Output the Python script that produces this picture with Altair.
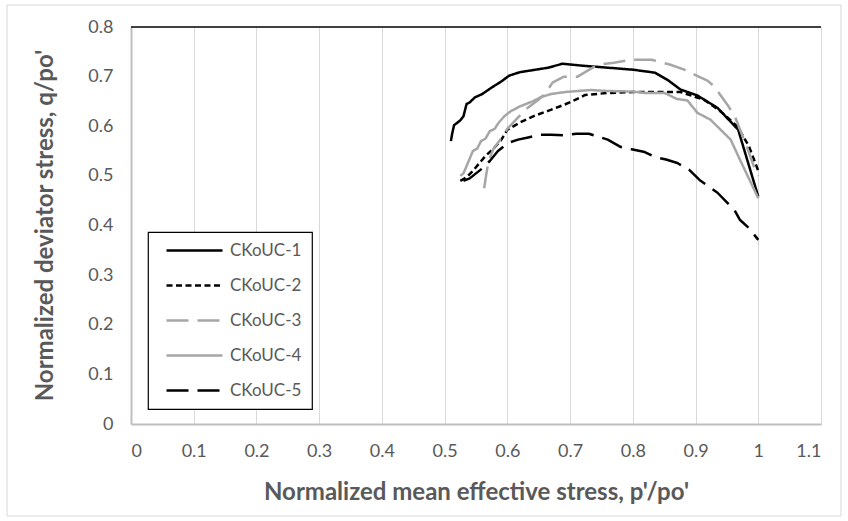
import altair as alt
import pandas as pd

series = ["CKoUC-1", "CKoUC-2", "CKoUC-3", "CKoUC-4", "CKoUC-5"]
colors = ["#000000", "#000000", "#a6a6a6", "#a6a6a6", "#000000"]
dashes = [[1, 0], [6, 3.5], [22, 9], [1, 0], [22, 9]]

p1 = [0.510, 0.512, 0.515, 0.525, 0.530, 0.535, 0.540, 0.548, 0.560, 0.575, 0.590, 0.603,
      0.620, 0.640, 0.665, 0.688, 0.720, 0.760, 0.800, 0.835, 0.857, 0.876, 0.903, 0.935,
      0.968, 1.000]
q1 = [0.570, 0.585, 0.602, 0.612, 0.620, 0.645, 0.648, 0.658, 0.665, 0.678, 0.690, 0.702,
      0.709, 0.713, 0.718, 0.726, 0.722, 0.718, 0.714, 0.708, 0.692, 0.674, 0.662, 0.637,
      0.593, 0.458]

p2 = [0.525, 0.535, 0.545, 0.555, 0.565, 0.578, 0.590, 0.600, 0.622, 0.645, 0.665, 0.690,
      0.708, 0.724, 0.760, 0.800, 0.876, 0.914, 0.940, 0.967, 0.985, 1.000]
q2 = [0.490, 0.497, 0.510, 0.525, 0.540, 0.555, 0.572, 0.593, 0.609, 0.622, 0.631, 0.643,
      0.653, 0.663, 0.667, 0.669, 0.669, 0.653, 0.630, 0.599, 0.560, 0.510]

p3 = [0.563, 0.566, 0.570, 0.578, 0.590, 0.600, 0.615, 0.630, 0.648, 0.660, 0.672, 0.690,
      0.712, 0.728, 0.744, 0.770, 0.797, 0.830, 0.860, 0.882, 0.905, 0.919, 0.930, 0.951,
      0.963, 0.971, 0.982, 0.995, 1.000]
q3 = [0.475, 0.500, 0.530, 0.555, 0.575, 0.595, 0.615, 0.635, 0.652, 0.665, 0.688, 0.700,
      0.700, 0.712, 0.724, 0.728, 0.734, 0.734, 0.724, 0.714, 0.700, 0.692, 0.680, 0.643,
      0.619, 0.593, 0.558, 0.512, 0.500]

p4 = [0.525, 0.530, 0.535, 0.540, 0.545, 0.552, 0.558, 0.565, 0.572, 0.580, 0.586, 0.595,
      0.605, 0.620, 0.640, 0.654, 0.670, 0.692, 0.733, 0.760, 0.800, 0.820, 0.851, 0.870,
      0.887, 0.903, 0.924, 0.956, 0.971, 1.000]
q4 = [0.500, 0.505, 0.520, 0.535, 0.550, 0.555, 0.570, 0.575, 0.590, 0.595, 0.607, 0.620,
      0.630, 0.640, 0.650, 0.659, 0.665, 0.669, 0.673, 0.671, 0.670, 0.667, 0.667, 0.655,
      0.652, 0.627, 0.613, 0.573, 0.532, 0.455]

p5 = [0.530, 0.540, 0.550, 0.560, 0.572, 0.585, 0.595, 0.605, 0.617, 0.635, 0.652, 0.670,
      0.690, 0.710, 0.730, 0.760, 0.781, 0.800, 0.819, 0.835, 0.853, 0.871, 0.890, 0.908,
      0.935, 0.962, 0.971, 0.985, 1.000]
q5 = [0.490, 0.495, 0.505, 0.515, 0.530, 0.550, 0.560, 0.568, 0.573, 0.578, 0.583, 0.583,
      0.582, 0.585, 0.585, 0.573, 0.558, 0.553, 0.548, 0.538, 0.533, 0.526, 0.512, 0.490,
      0.466, 0.431, 0.411, 0.395, 0.371]

x_ticks = [0, 0.1, 0.2, 0.3, 0.4, 0.5, 0.6, 0.7, 0.8, 0.9, 1.0, 1.1]
y_ticks = [0, 0.1, 0.2, 0.3, 0.4, 0.5, 0.6, 0.7, 0.8]

rows = []
for name, ps, qs in zip(series, [p1, p2, p3, p4, p5], [q1, q2, q3, q4, q5]):
    for i, (p, q) in enumerate(zip(ps, qs)):
        rows.append({"series": name, "p": p, "q": q, "order": i})
df = pd.DataFrame(rows)

FONT = "Lato"
TXT = "#595959"

legend = alt.Legend(
    title=None, orient="none", legendX=17, legendY=205,
    symbolType="M0,0H11.2", symbolSize=100, symbolStrokeWidth=2.5,
    labelFont=FONT, labelFontSize=17, labelColor=TXT, labelOffset=55,
    rowPadding=17, padding=10, strokeColor="#000000", fillColor="#ffffff",
)

x_enc = alt.X("p:Q", scale=alt.Scale(domain=[0, 1.1], nice=False, zero=False),
              axis=alt.Axis(values=x_ticks, format="~g", labelPadding=18,
                            title="Normalized mean effective stress, p'/po'",
                            titleX=345, titleY=68, titleAlign="center",
                            titleBaseline="middle"))
y_enc = alt.Y("q:Q", scale=alt.Scale(domain=[0, 0.8], nice=False),
              axis=alt.Axis(values=y_ticks, format="~g", labelPadding=18,
                            title="Normalized deviator stress, q/po'",
                            titleX=-86, titleY=198, titleAngle=-90,
                            titleAlign="center", titleBaseline="middle"))

lines = alt.Chart(df).mark_line(strokeWidth=2.5, strokeJoin="round").encode(
    x=x_enc,
    y=y_enc,
    color=alt.Color("series:N", scale=alt.Scale(domain=series, range=colors), legend=legend),
    strokeDash=alt.StrokeDash("series:N", scale=alt.Scale(domain=series, range=dashes),
                              legend=legend),
    order="order:Q",
)

top_line = alt.Chart(pd.DataFrame({"a": [0]})).mark_rule(
    color="#000000", strokeWidth=1.5
).encode(y=alt.datum(0.8))

border = alt.Chart(pd.DataFrame({"a": [0]})).mark_rect(
    fill="transparent", stroke="#d9d9d9", strokeWidth=1
).encode(x=alt.value(-124), x2=alt.value(710), y=alt.value(-22), y2=alt.value(489))

chart = alt.layer(border, top_line, lines).properties(
    width=690, height=397,
    autosize=alt.AutoSizeParams(type="none"),
    padding={"left": 131, "top": 27, "right": 27, "bottom": 97},
    background="#ffffff",
).configure_view(
    stroke=None
).configure_axis(
    labelFont=FONT, labelFontSize=18, labelColor=TXT,
    titleFont=FONT, titleFontSize=24, titleFontWeight="bold", titleColor=TXT,
    gridColor="#d9d9d9", gridWidth=1, domainColor="#bfbfbf", domainWidth=2,
    ticks=False,
).configure_legend(strokeWidth=1.2)

chart.save("out.html", embed_options={"renderer": "svg", "actions": False})
